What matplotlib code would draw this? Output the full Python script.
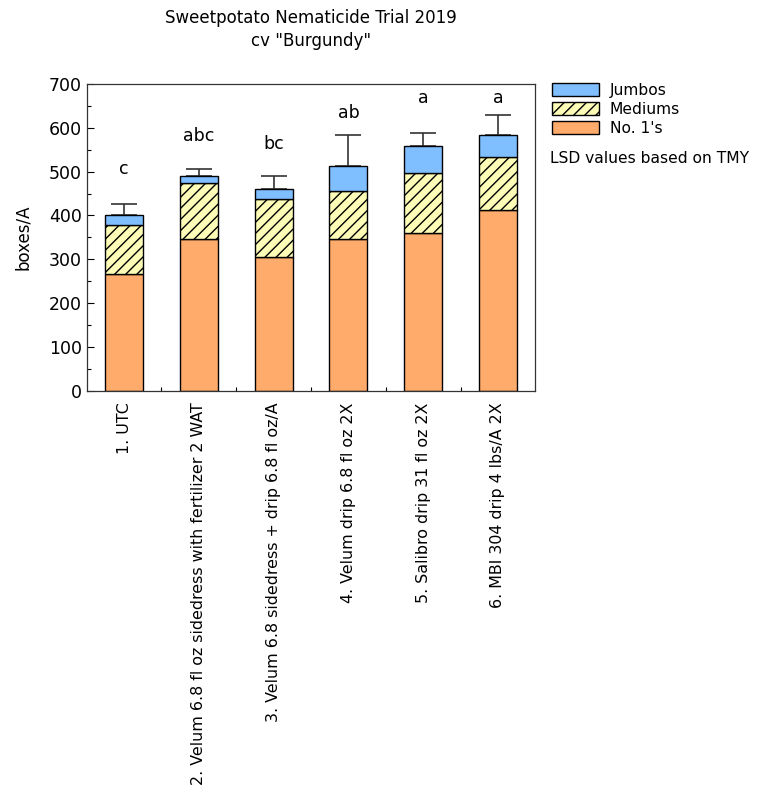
import matplotlib
matplotlib.use('Agg')
import matplotlib.pyplot as plt
from matplotlib.patches import Patch
from matplotlib.ticker import MultipleLocator
import numpy as np

# yield by grade (boxes/A) for each treatment
treatments = ['1. UTC',
              '2. Velum 6.8 fl oz sidedress with fertilizer 2 WAT',
              '3. Velum 6.8 sidedress + drip 6.8 fl oz/A',
              '4. Velum drip 6.8 fl oz 2X',
              '5. Salibro drip 31 fl oz 2X',
              '6. MBI 304 drip 4 lbs/A 2X']
no1s = [267, 347, 305, 346, 360, 413]
mediums = [111, 128, 132, 110, 136, 120]
jumbos = [24, 15, 24, 56, 63, 50]
tmy_err = [24, 15, 28, 71, 30, 47]
lsd_letters = ['c', 'abc', 'bc', 'ab', 'a', 'a']
letter_y = [505, 582, 563, 633, 667, 667]

C_NO1 = '#ffab6b'
C_MED = '#fdfdb8'
C_JUMBO = '#80bfff'

plt.rcParams['hatch.color'] = '#333333'
plt.rcParams['hatch.linewidth'] = 1.0

fig = plt.figure(figsize=(7.67, 7.98), dpi=100)
ax = fig.add_axes([0.113, 0.510, 0.585, 0.385])

x = np.arange(len(treatments))
w = 0.51
no1s = np.array(no1s)
mediums = np.array(mediums)
jumbos = np.array(jumbos)
totals = no1s + mediums + jumbos

ax.bar(x, no1s, w, color=C_NO1, edgecolor='black', linewidth=1.0, zorder=2)
ax.bar(x, mediums, w, bottom=no1s, color=C_MED, edgecolor='black',
       linewidth=1.0, hatch='///', zorder=2)
ax.bar(x, jumbos, w, bottom=no1s + mediums, color=C_JUMBO, edgecolor='black',
       linewidth=1.0, zorder=2)
ax.errorbar(x, totals, yerr=[np.zeros(len(x)), tmy_err], fmt='none',
            ecolor='#333333', elinewidth=1.2, capsize=9.4, capthick=1.2, zorder=1)

for xi, lt, ly in zip(x, lsd_letters, letter_y):
    ax.text(xi, ly, lt, ha='center', va='center', fontsize=12.5)

ax.set_xlim(-0.5, 5.5)
ax.set_ylim(0, 700)
ax.set_ylabel('boxes/A', fontsize=12, labelpad=12)
ax.yaxis.set_major_locator(MultipleLocator(100))
ax.yaxis.set_minor_locator(MultipleLocator(50))
ax.set_xticks(x)
ax.set_xticklabels(treatments, rotation=90, fontsize=11.4, va='top', ha='center')
ax.set_xticks(np.arange(0.5, 5.5, 1.0), minor=True)
ax.tick_params(axis='y', direction='in', length=5, labelsize=12.5, width=0.8)
ax.tick_params(axis='y', which='minor', direction='in', length=3, width=0.8)
ax.tick_params(axis='x', which='major', length=0, pad=8)
ax.tick_params(axis='x', which='minor', direction='in', length=3, width=0.8)
for sp in ax.spines.values():
    sp.set_linewidth(0.9)
    sp.set_color('#333333')

ax.set_title('Sweetpotato Nematicide Trial 2019\ncv "Burgundy"', fontsize=12,
             pad=27, linespacing=1.38)

handles = [Patch(facecolor=C_JUMBO, edgecolor='black', label='Jumbos'),
           Patch(facecolor=C_MED, edgecolor='black', hatch='///', label='Mediums'),
           Patch(facecolor=C_NO1, edgecolor='black', label="No. 1's")]
fig.legend(handles=handles, loc='upper left', bbox_to_anchor=(0.712, 0.904),
           frameon=False, fontsize=11.2, handlelength=3.0, handleheight=0.9,
           labelspacing=0.25, handletextpad=0.7, borderaxespad=0)
fig.text(0.717, 0.802, 'LSD values based on TMY', fontsize=11.2, va='center')

fig.savefig('out.png', dpi=100)
